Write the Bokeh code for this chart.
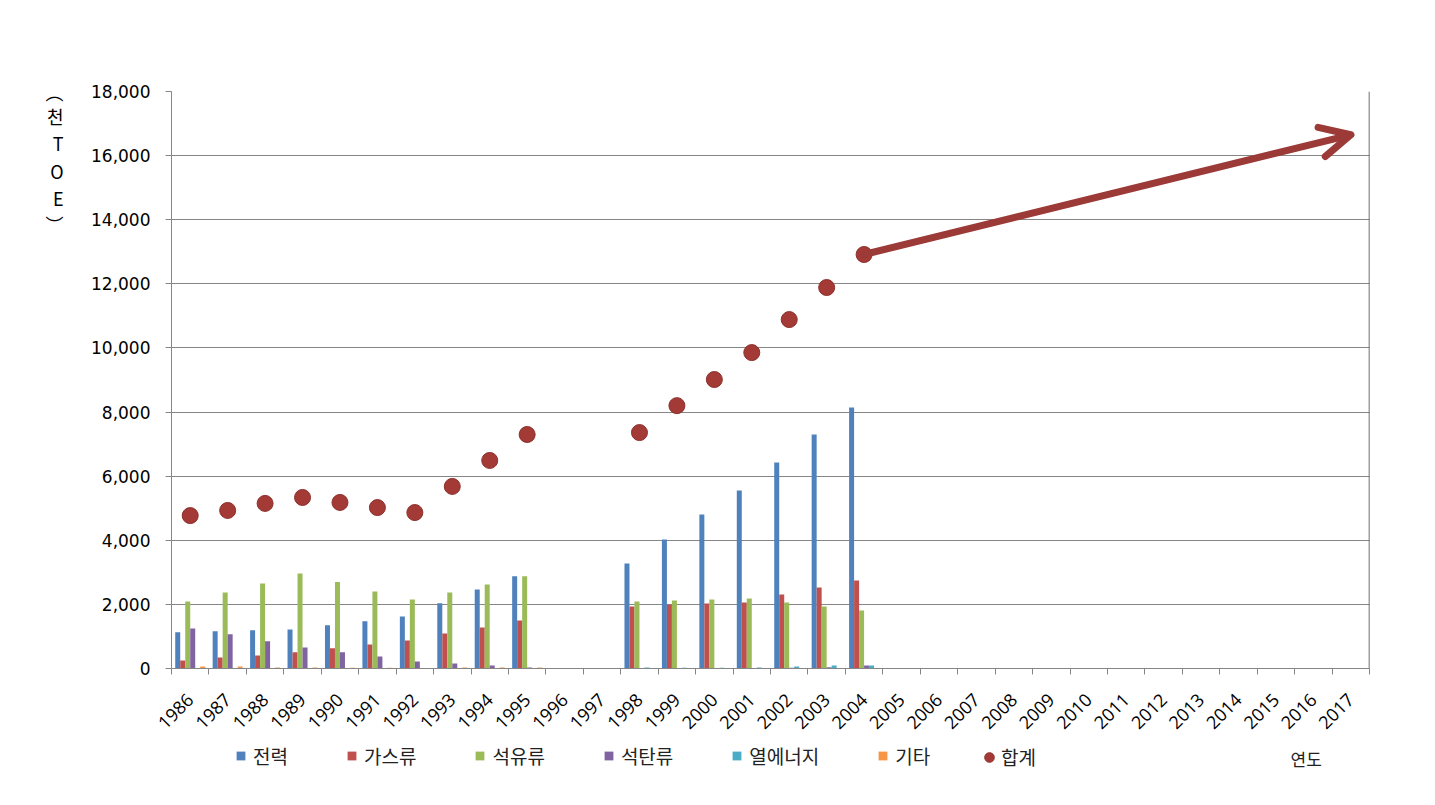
import math
import numpy as np
from bokeh.plotting import figure
from bokeh.layouts import column
from bokeh.models import (ColumnDataSource, FixedTicker, Range1d, Legend, LegendItem,
                          Arrow, OpenHead, NumeralTickFormatter, Span, LinearAxis, Label)
from bokeh.embed import file_html
from bokeh.resources import INLINE

# ---------------- data ----------------
axis_years = [str(y) for y in range(1986, 2018)]
data_years = [1986, 1987, 1988, 1989, 1990, 1991, 1992, 1993, 1994, 1995,
              1998, 1999, 2000, 2001, 2002, 2003, 2004]
power = [1130, 1165, 1195, 1215, 1350, 1475, 1620, 2035, 2465, 2880,
         3275, 4025, 4805, 5550, 6425, 7300, 8140]
gas = [250, 345, 405, 510, 635, 750, 875, 1090, 1280, 1500,
       1935, 1985, 2030, 2060, 2310, 2530, 2745]
oil = [2090, 2370, 2650, 2960, 2695, 2400, 2150, 2370, 2620, 2880,
       2090, 2120, 2150, 2185, 2060, 1935, 1810]
coal = [1250, 1070, 850, 655, 510, 375, 220, 155, 95, 30,
        10, 10, 10, 10, 25, 40, 95]
heat = [0, 0, 0, 0, 0, 0, 0, 0, 0, 0,
        30, 25, 25, 30, 60, 95, 95]
other = [60, 60, 30, 30, 20, 20, 15, 30, 30, 30,
         0, 0, 0, 0, 0, 0, 0]
total = [4770, 4930, 5150, 5335, 5180, 5020, 4865, 5680, 6490, 7300,
         7360, 8200, 9015, 9855, 10885, 11885, 12915]
trend_years = [2004, 2017]
trend_values = [12915, 16650]

series_names = ["전력", "가스류", "석유류", "석탄류", "열에너지", "기타"]
series_values = [power, gas, oil, coal, heat, other]
series_colors = ["#4f81bd", "#c0504d", "#9bbb59", "#8064a2", "#4bacc6", "#f79646"]
total_name = "합계"
x_title = "연도"
y_title_chars = ["︵", "천", "T", "O", "E", "︶"]

y_ticks = list(range(0, 18001, 2000))

dot_fill = "#a33a36"
dot_line = "#8c302d"

# ---------------- main figure ----------------
p = figure(width=1435, height=740, output_backend="svg", toolbar_location=None,
           x_range=Range1d(0, len(axis_years)), y_range=Range1d(0, 18000),
           min_border_left=171, min_border_right=66, min_border_top=91,
           min_border_bottom=72)
p.outline_line_color = None
p.background_fill_color = "white"

def xpos(year):
    return axis_years.index(str(year)) + 0.5

centers = np.array([xpos(y) for y in data_years])
bar_w = 0.1335
offsets = (np.arange(6) - 2.5) * bar_w

for k, (name, vals, col) in enumerate(zip(series_names, series_values, series_colors)):
    src = ColumnDataSource(dict(x=centers + offsets[k], top=vals))
    p.vbar(x="x", top="top", bottom=0, width=bar_w, source=src,
           fill_color=col, line_color=None)

tot_src = ColumnDataSource(dict(x=centers, y=total))
p.scatter(x="x", y="y", source=tot_src, size=16, marker="circle",
          fill_color=dot_fill, line_color=dot_line, line_width=1)

# trend arrow
arrow = Arrow(end=OpenHead(size=30, line_width=7, line_color="#9b3a36", line_cap="round",
                           line_join="round"),
              x_start=xpos(trend_years[0]), y_start=trend_values[0],
              x_end=xpos(trend_years[1]), y_end=trend_values[1],
              line_color="#9b3a36", line_width=7, line_cap="round")
p.add_layout(arrow)

# axes
xa = p.xaxis[0]
xa.ticker = FixedTicker(ticks=[i + 0.5 for i in range(len(axis_years))],
                        minor_ticks=list(range(len(axis_years) + 1)))
xa.major_label_overrides = {i + 0.5: lab for i, lab in enumerate(axis_years)}
xa.major_tick_out = 0
xa.major_tick_in = 0
xa.minor_tick_out = 6
xa.minor_tick_in = 0
xa.minor_tick_line_color = "#868686"
xa.axis_line_color = "#868686"
xa.major_label_orientation = math.pi / 4
xa.major_label_text_font = "Open Sans"
xa.major_label_text_font_size = "18px"
xa.major_label_text_color = "black"
xa.major_label_standoff = 22

ya = p.yaxis[0]
ya.ticker = FixedTicker(ticks=y_ticks)
ya.formatter = NumeralTickFormatter(format="0,0")
ya.major_tick_out = 6
ya.major_tick_in = 0
ya.minor_tick_out = 0
ya.minor_tick_in = 0
ya.major_tick_line_color = "#868686"
ya.axis_line_color = "#868686"
ya.major_label_text_font = "DejaVu Sans"
ya.major_label_text_font_size = "17px"
ya.major_label_text_color = "black"
ya.major_label_standoff = 15

# stacked y title: characters set as labels of an extra, line-less left axis
title_pos = [18000, 17251, 16378, 15535, 14693, 13851]
ya2 = LinearAxis(ticker=FixedTicker(ticks=title_pos),
                 axis_line_color=None, major_tick_line_color=None,
                 minor_tick_line_color=None, major_tick_out=0, major_tick_in=0,
                 minor_tick_out=0, minor_tick_in=0)
ya2.major_label_overrides = {float(v): c for v, c in zip(title_pos, y_title_chars)}
ya2.major_label_text_font = "Noto Sans CJK KR"
ya2.major_label_text_font_size = "18px"
ya2.major_label_text_color = "black"
ya2.major_label_standoff = 25
p.add_layout(ya2, "left")

p.xgrid.grid_line_color = None
p.ygrid.grid_line_color = "#868686"
p.ygrid.grid_line_width = 1

p.add_layout(Span(location=len(axis_years), dimension="height",
                  line_color="#404040", line_width=1.5))

# ---------------- legend strip ----------------
lh = 65
q = figure(width=1435, height=lh, output_backend="svg", toolbar_location=None,
           x_range=Range1d(0, 1435), y_range=Range1d(0, lh),
           x_axis_type=None, y_axis_type=None,
           min_border_left=0, min_border_right=0, min_border_top=0, min_border_bottom=0)
q.outline_line_color = None
q.grid.visible = False

# off-view proxies so the legend can draw its swatches
items = []
for name, col in zip(series_names, series_colors):
    r = q.vbar(x=[-5000], bottom=[-5000], top=[-4999], width=1,
               fill_color=col, line_color=None)
    items.append(LegendItem(label=name, renderers=[r]))
rt = q.scatter(x=[-5000], y=[-5000], marker="circle", fill_color=dot_fill,
               line_color=dot_line)

leg1 = Legend(items=items, orientation="horizontal", location=(64, 36),
              padding=0, margin=0, spacing=58, glyph_width=11, glyph_height=11,
              label_standoff=7, label_height=22,
              label_text_font="Noto Sans CJK KR", label_text_font_size="19px",
              label_text_color="#222222", border_line_color=None,
              background_fill_alpha=0)
q.add_layout(leg1, "center")
leg2 = Legend(items=[LegendItem(label=total_name, renderers=[rt])],
              orientation="horizontal", location=(806, 35),
              padding=0, margin=0, glyph_width=24, glyph_height=24,
              label_standoff=0, label_height=22,
              label_text_font="Noto Sans CJK KR", label_text_font_size="19px",
              label_text_color="#222222", border_line_color=None,
              background_fill_alpha=0)
q.add_layout(leg2, "center")
q.add_layout(Label(x=1119, y=47, x_units="screen", text=x_title,
                   text_font="Noto Sans CJK KR",
                   text_font_size="17px", text_align="left", text_baseline="middle",
                   text_color="#222222"))

open("out.html", "w").write(file_html(column(p, q, spacing=0), INLINE))
